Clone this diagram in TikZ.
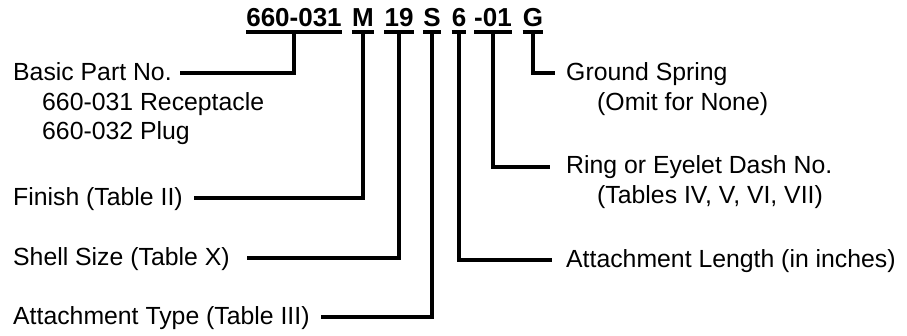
\documentclass[tikz,border=0pt]{standalone}
\usepackage{fontspec}
\setmainfont{Liberation Sans}
\begin{document}
\begin{tikzpicture}[x=1pt,y=1pt,
  lbl/.style={font=\fontsize{24.8}{29}\selectfont, inner sep=0pt, anchor=base west},
  code/.style={font=\fontsize{26}{30}\selectfont\bfseries, inner sep=0pt, anchor=base},
  conn/.style={line width=3.2pt, line cap=butt, line join=miter}]
\useasboundingbox (0,0) rectangle (907,335);
% code groups
\node[code] (t1) at (294,308) {660-031};
\node[code] (t2) at (363,308) {M};
\node[code] (t3) at (399,308) {19};
\node[code] (t4) at (432,308) {S};
\node[code] (t5) at (459,308) {6};
\node[code] (t6) at (493,308) {-01};
\node[code] (t7) at (533,308) {G};
% left labels
\node[lbl] (basic) at (13,254) {Basic Part No.};
\node[lbl] (rec) at (42,224.5) {660-031 Receptacle};
\node[lbl] (plug) at (42,195) {660-032 Plug};
\node[lbl] (fin) at (13,130) {Finish (Table II)};
\node[lbl] (shell) at (13,70) {Shell Size (Table X)};
\node[lbl] (atype) at (13,11) {Attachment Type (Table III)};
% right labels
\node[lbl] (gs) at (566,254) {Ground Spring};
\node[lbl] (omit) at (597,224.5) {(Omit for None)};
\node[lbl] (ring) at (566,161) {Ring or Eyelet Dash No.};
\node[lbl] (tabs) at (597,131.5) {(Tables IV, V, VI, VII)};
\node[lbl] (alen) at (566,68) {Attachment Length (in inches)};
% line ends
\coordinate (e1) at (180,262);
\coordinate (e2) at (194,137);
\coordinate (e3) at (247,77);
\coordinate (e4) at (321,18);
\coordinate (e5) at (552,75);
\coordinate (e6) at (550,168);
\coordinate (e7) at (555,262);
% underlines
\foreach \t in {t1,t2,t3,t4,t5,t6,t7}
  \draw[conn] ([yshift=-5pt]\t.base west) -- ([yshift=-5pt]\t.base east);
% connectors
\draw[conn] ([yshift=-5pt]t1.base) |- (e1);
\draw[conn] ([yshift=-5pt]t2.base) |- (e2);
\draw[conn] ([yshift=-5pt]t3.base) |- (e3);
\draw[conn] ([yshift=-5pt]t4.base) |- (e4);
\draw[conn] ([yshift=-5pt]t5.base) |- (e5);
\draw[conn] ([yshift=-5pt]t6.base) |- (e6);
\draw[conn] ([yshift=-5pt]t7.base) |- (e7);
\end{tikzpicture}
\end{document}
